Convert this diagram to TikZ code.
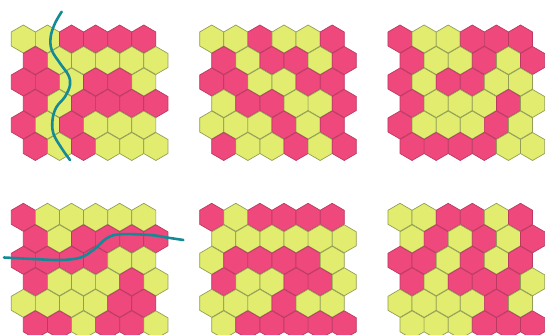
\documentclass[tikz,border=0pt]{standalone}
\usepackage{tikz}
\usetikzlibrary{positioning}
\definecolor{hexR}{RGB}{238,72,124}
\definecolor{hexY}{RGB}{226,236,110}
\definecolor{edgeR}{RGB}{186,58,98}
\definecolor{edgeY}{RGB}{146,158,86}
\definecolor{cutline}{RGB}{20,138,150}

% one board: centre of the first cell, then the six rows
\newcommand{\hexboard}[3]{%
  \foreach \row [count=\j from 0] in {#3} {
    \foreach \c [count=\i from 0] in \row {
      \pgfmathsetmacro{\cx}{#1+24.1*\i+12.05*mod(\j,2)}
      \pgfmathsetmacro{\cy}{#2+21.5*\j}
      \path[cell,fill=hex\c,draw=edge\c]
        (\cx,\cy-14) -- ++(12.05,7) -- ++(0,14) -- ++(-12.05,7)
        -- ++(-12.05,-7) -- ++(0,-14) -- cycle;
    }
  }%
}

\begin{document}
\begin{tikzpicture}[
  x=1pt,y=-1pt,
  cell/.style={line width=0.7pt,line join=round},
  cut/.style={draw=cutline,line width=2.6pt,line cap=round}
]
\useasboundingbox (0,0) rectangle (545,334);

% obere Reihe
\hexboard{23.3}{39}{{Y,Y,R,R,R,R},{R,Y,Y,Y,Y,Y},{R,R,Y,R,R,Y},
  {R,Y,R,R,R,R},{R,Y,R,Y,Y,Y},{R,Y,R,Y,Y,Y}}
\hexboard{211.7}{39}{{Y,Y,R,Y,Y,R},{R,Y,R,R,Y,R},{R,R,Y,Y,R,R},
  {Y,R,R,Y,Y,R},{Y,Y,Y,R,Y,R},{R,Y,Y,R,Y,R}}
\hexboard{400}{39}{{R,Y,Y,R,R,R},{R,Y,Y,R,Y,R},{R,Y,R,R,Y,Y},
  {R,Y,Y,Y,R,Y},{R,Y,Y,Y,R,Y},{R,R,R,R,Y,Y}}

% untere Reihe
\hexboard{23.3}{217.3}{{R,Y,Y,Y,Y,Y},{R,Y,R,R,R,R},{R,R,R,R,Y,Y},
  {R,Y,Y,Y,R,Y},{Y,Y,Y,Y,R,R},{R,R,Y,R,R,Y}}
\hexboard{211.7}{217.3}{{R,Y,R,R,R,R},{Y,Y,Y,Y,Y,Y},{Y,R,R,R,R,Y},
  {R,Y,Y,R,R,Y},{Y,Y,Y,R,Y,Y},{Y,R,R,R,R,R}}
\hexboard{400}{217.3}{{Y,Y,R,R,Y,R},{Y,R,Y,R,Y,R},{R,R,Y,R,Y,R},
  {R,Y,R,R,R,Y},{Y,Y,Y,Y,R,Y},{Y,Y,Y,R,R,R}}

% Schnittlinien
\draw[cut] plot[smooth,tension=0.6] coordinates {
  (61.7,11.7) (55,23.3) (50.7,36.7) (51.7,50) (60,63.3) (68.3,75)
  (70,85) (65,96.7) (56.7,106.7) (52.7,118.3) (53.3,133.3)
  (61.7,148.3) (70,160)};
\draw[cut] plot[smooth,tension=0.6] coordinates {
  (4,257.5) (33.3,259) (60,260) (80,257.7) (93.3,250) (106.7,238.3)
  (120,234.3) (150,235) (166.7,237.5) (183.3,240)};
\end{tikzpicture}
\end{document}
